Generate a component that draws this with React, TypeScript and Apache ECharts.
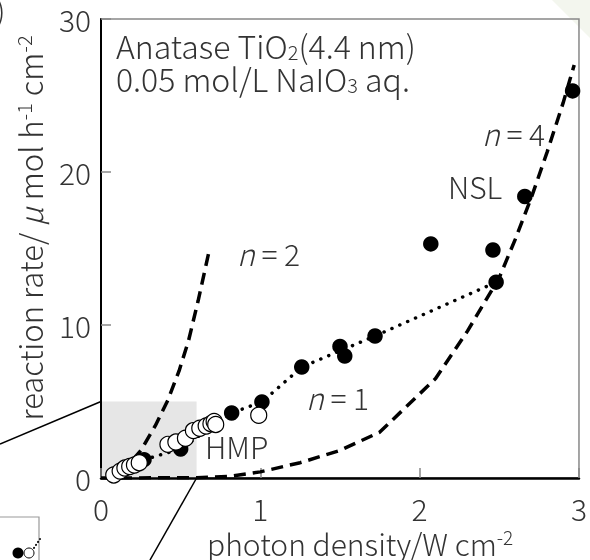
import React, { useEffect, useRef } from 'react';
import * as echarts from 'echarts';

// ---- data ----
const xTicks = [0, 1, 2, 3];
const yTicks = [0, 10, 20, 30];

// NSL (filled circles)
const nslPoints: number[][] = [
  [0.27, 1.2], [0.5, 1.9], [0.82, 4.25], [1.01, 4.97], [1.26, 7.25], [1.5, 8.6],
  [1.53, 7.97], [1.72, 9.28], [2.07, 15.3], [2.46, 14.9], [2.48, 12.8], [2.66, 18.4], [2.96, 25.3],
];
// HMP (open circles)
const hmpPoints: number[][] = [
  [0.08, 0.2], [0.12, 0.45], [0.15, 0.65], [0.18, 0.75], [0.21, 0.85], [0.24, 1.0],
  [0.42, 2.2], [0.47, 2.35], [0.53, 2.6], [0.58, 3.1], [0.62, 3.25], [0.66, 3.4],
  [0.69, 3.55], [0.71, 3.7], [0.72, 3.5], [0.99, 4.1],
];
// dotted guide through NSL points (n = 1)
const nslTrend: number[][] = [
  [0.27, 1.2], [0.5, 1.9], [0.82, 4.25], [1.01, 4.97], [1.26, 7.25], [1.72, 9.28], [2.48, 12.8],
];
// dashed n = 2 curve
const n2Curve: number[][] = [
  [0.2, 1.2], [0.25, 1.8], [0.34, 3.4], [0.42, 5.1], [0.49, 7.0], [0.55, 9.0], [0.61, 11.6], [0.68, 14.9],
];
// dashed n = 4 curve
const n4Curve: number[][] = [
  [0, 0], [0.6, 0.02], [0.8, 0.1], [1.0, 0.4], [1.25, 1.0], [1.5, 1.8], [1.75, 3.0],
  [2.1, 6.5], [2.3, 9.6], [2.5, 13.1], [2.6, 15.6], [2.7, 18.3], [2.8, 21.3], [2.9, 24.5], [2.97, 27.0],
];
// magnified region (shaded box)
const zoomBoxX = [0, 0.6];
const zoomBoxY = [0, 5];

const FONT = "'Noto Sans CJK JP', 'Noto Sans', sans-serif";
const TXT = '#333';
const FS = 30;
const SP = '\u00A0';

const makeRich = (fs: number, lh: number) => ({
  a: { fontFamily: FONT, fontWeight: 300, fontSize: fs, lineHeight: lh, fill: TXT },
  it: { fontFamily: FONT, fontWeight: 300, fontSize: fs, lineHeight: lh, fontStyle: 'italic', fill: TXT },
  sup: { fontFamily: FONT, fontWeight: 300, fontSize: Math.round(fs * 0.64), lineHeight: 14, verticalAlign: 'top', fill: TXT },
  sub: { fontFamily: FONT, fontWeight: 300, fontSize: Math.round(fs * 0.64), lineHeight: 4, verticalAlign: 'bottom', fill: TXT },
});

export default function App() {
  const ref = useRef<HTMLDivElement>(null);
  useEffect(() => {
    if (!ref.current) return;
    const chart = echarts.init(ref.current, null, { renderer: 'svg' });
    const axisLabel = { fontFamily: FONT, fontWeight: 300, fontSize: FS, color: TXT };
    chart.setOption({
      animation: false,
      grid: { left: 101, top: 19, right: 5, bottom: 82, show: true, borderColor: '#888', borderWidth: 1.5 },
      xAxis: {
        type: 'value', min: xTicks[0], max: xTicks[xTicks.length - 1], interval: xTicks[1] - xTicks[0], z: 3,
        axisLine: { show: true, lineStyle: { color: '#000', width: 2.5 } },
        axisTick: { show: true, inside: true, length: 10, lineStyle: { color: '#888', width: 1.5 } },
        axisLabel: { ...axisLabel, margin: 15 },
        splitLine: { show: false },
      },
      yAxis: {
        type: 'value', min: yTicks[0], max: yTicks[yTicks.length - 1], interval: yTicks[1] - yTicks[0], z: 3,
        axisLine: { show: true, lineStyle: { color: '#000', width: 2 } },
        axisTick: { show: true, inside: true, length: 10, lineStyle: { color: '#888', width: 1.5 } },
        axisLabel: { ...axisLabel, margin: 10 },
        splitLine: { show: false },
      },
      series: [
        {
          type: 'line', data: [[zoomBoxX[0], zoomBoxY[0]]], symbol: 'none', z: 1,
          lineStyle: { opacity: 0 },
          markArea: {
            silent: true,
            itemStyle: { color: '#e6e6e6' },
            data: [[{ xAxis: zoomBoxX[0], yAxis: zoomBoxY[0] }, { xAxis: zoomBoxX[1], yAxis: zoomBoxY[1] }]],
          },
        },
        {
          type: 'line', data: n4Curve, symbol: 'none', z: 4,
          lineStyle: { color: '#000', width: 3.5, type: [12, 7] },
        },
        {
          type: 'line', data: n2Curve, symbol: 'none', z: 4,
          lineStyle: { color: '#000', width: 3.5, type: [12, 7] },
        },
        {
          type: 'line', data: nslTrend, symbol: 'none', z: 4,
          lineStyle: { color: '#000', width: 3.5, type: [0.1, 8.5], cap: 'round' },
        },
        {
          type: 'scatter', data: nslPoints, symbol: 'circle', symbolSize: 15.5, z: 5,
          itemStyle: { color: '#000', opacity: 1 },
        },
        {
          type: 'scatter', data: hmpPoints, symbol: 'circle', symbolSize: 16, z: 6,
          itemStyle: { color: '#fff', borderColor: '#000', borderWidth: 1.2, opacity: 1 },
        },
      ],
    });

    const pTL = chart.convertToPixel({ gridIndex: 0 }, [zoomBoxX[0], zoomBoxY[1]]) as number[];
    const pBR = chart.convertToPixel({ gridIndex: 0 }, [zoomBoxX[1], zoomBoxY[0]]) as number[];

    const rich = makeRich(FS, 32);
    const richTitle = makeRich(32, 33);
    const richY = makeRich(31, 32);

    const label = (x: number, y: number, text: string, r: any = rich) => ({
      type: 'text', x, y, z: 20,
      style: { text, rich: r, align: 'left', verticalAlign: 'middle' },
    });

    chart.setOption({
      graphic: [
        { type: 'polygon', z: -1, shape: { points: [[552, 0], [590, 0], [590, 38]] }, style: { fill: '#f3f6ee' } },
        label(116, 61, `{a|Anatase TiO}{sub|2}{a|(4.4 nm)}\n{a|0.05 mol/L NaIO}{sub|3}{a|${SP}aq.}`, richTitle),
        label(237, 253, `{it|n}{a|${SP}=${SP}2}`),
        label(306, 397, `{it|n}{a|${SP}=${SP}1}`),
        label(482, 133, `{it|n}{a|${SP}=${SP}4}`),
        label(448, 186, '{a|NSL}'),
        label(205, 446, '{a|HMP}'),
        label(207, 543, '{a|photon density/W cm}{sup|-2}'),
        {
          type: 'text', x: 29, y: 228, rotation: Math.PI / 2, z: 20,
          style: { text: `{a|reaction rate/${SP}}{it|μ}{a|${SP}mol h}{sup|-1}{a|${SP}cm}{sup|-2}`, rich: richY, align: 'center', verticalAlign: 'middle' },
        },
        label(-4, 9, '{a|)}'),
        // zoom connector lines
        { type: 'line', z: 20, shape: { x1: 0, y1: 444, x2: pTL[0], y2: pTL[1] }, style: { stroke: '#000', lineWidth: 1.5 } },
        { type: 'line', z: 20, shape: { x1: pBR[0], y1: pBR[1], x2: 150, y2: 560 }, style: { stroke: '#000', lineWidth: 1.5 } },
        // partial inset at bottom left
        { type: 'rect', z: 20, shape: { x: -60, y: 517, width: 99, height: 80 }, style: { fill: 'none', stroke: '#999', lineWidth: 1.2 } },
        { type: 'line', z: 20, shape: { x1: 34, y1: 548, x2: 40, y2: 539 }, style: { stroke: '#000', lineWidth: 2, lineDash: [0.1, 3.5], lineCap: 'round' } },
        { type: 'circle', z: 21, shape: { cx: 18, cy: 553, r: 5.5 }, style: { fill: '#000' } },
        { type: 'circle', z: 22, shape: { cx: 29, cy: 553, r: 5 }, style: { fill: '#fff', stroke: '#000', lineWidth: 1 } },
      ],
    });
    return () => chart.dispose();
  }, []);
  return <div ref={ref} style={{ position: 'fixed', left: 0, top: 0, width: 590, height: 560 }} />;
}
